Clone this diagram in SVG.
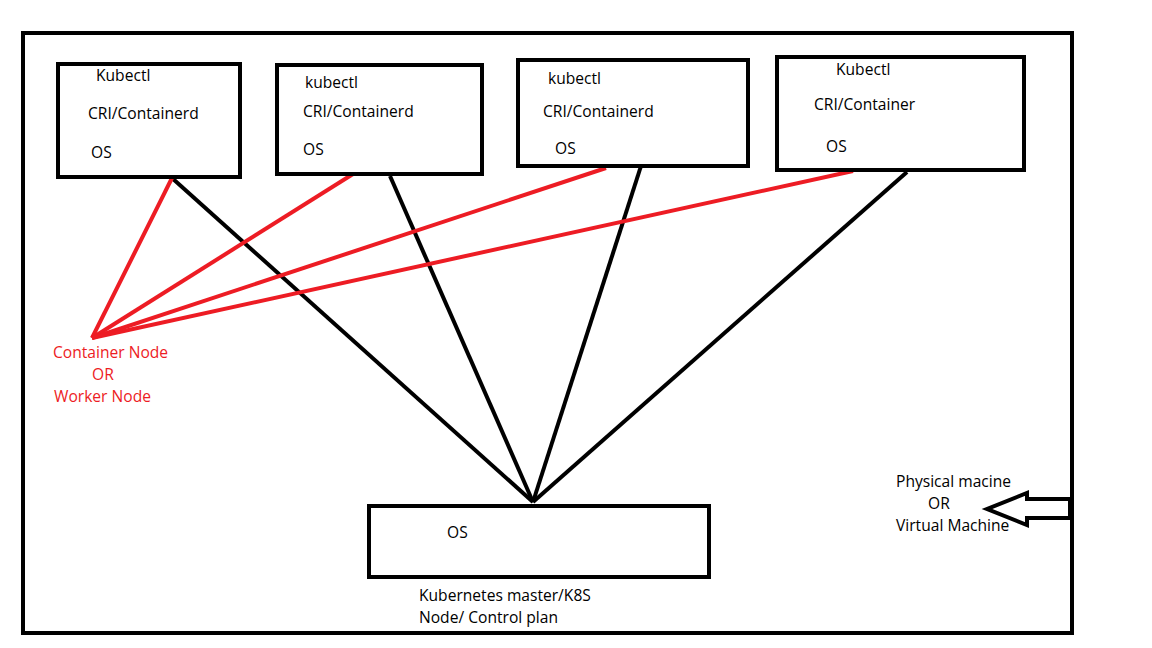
<svg xmlns="http://www.w3.org/2000/svg" width="1152" height="648" viewBox="0 0 1152 648">
<style>
.box{fill:none;stroke:#000;stroke-width:4}
.t{font-family:"Open Sans","Liberation Sans",sans-serif;font-size:15.6px;fill:#000}
.r{fill:#ed1c24}
.bl{stroke:#000;stroke-width:4;fill:none}
.rl{stroke:#ed1c24;stroke-width:4;fill:none}
</style>
<rect width="1152" height="648" fill="#fff"/>
<g id="frame"><rect class="box" x="23" y="33" width="1049" height="600"/></g>
<g id="connectors">
<line class="bl" x1="172" y1="178" x2="533" y2="502"/>
<line class="bl" x1="390" y1="176" x2="533" y2="502"/>
<line class="bl" x1="641" y1="166" x2="533" y2="502"/>
<line class="bl" x1="907" y1="172" x2="533" y2="502"/>
<line class="rl" x1="172" y1="178" x2="92" y2="338"/>
<line class="rl" x1="353" y1="174" x2="92" y2="338"/>
<line class="rl" x1="606" y1="168" x2="92" y2="338"/>
<line class="rl" x1="853" y1="171" x2="92" y2="338"/>
<polygon class="bl" points="1070,499 1027,499 1027,493 987,509 1027,525 1027,518 1070,518"/>
</g>
<g id="node1"><rect class="box" x="58" y="64" width="182" height="113"/>
<text class="t" x="96" y="81">Kubectl</text><text class="t" x="88" y="119">CRI/Containerd</text><text class="t" x="91" y="158">OS</text></g>
<g id="node2"><rect class="box" x="277" y="65" width="205" height="109"/>
<text class="t" x="305" y="88">kubectl</text><text class="t" x="303" y="117">CRI/Containerd</text><text class="t" x="303" y="155">OS</text></g>
<g id="node3"><rect class="box" x="518" y="60" width="230" height="106"/>
<text class="t" x="548" y="84">kubectl</text><text class="t" x="543" y="117">CRI/Containerd</text><text class="t" x="555" y="154">OS</text></g>
<g id="node4"><rect class="box" x="777" y="57" width="247" height="113"/>
<text class="t" x="836" y="75">Kubectl</text><text class="t" x="814" y="110">CRI/Container</text><text class="t" x="826" y="152">OS</text></g>
<g id="master"><rect class="box" x="369" y="506" width="340" height="71"/>
<text class="t" x="447" y="538">OS</text>
<text class="t" x="419" y="601">Kubernetes master/K8S</text><text class="t" x="419" y="623">Node/ Control plan</text></g>
<g id="worker-label"><text class="t r" x="53" y="358">Container Node</text><text class="t r" x="92" y="380">OR</text><text class="t r" x="54" y="402">Worker Node</text></g>
<g id="machine-label"><text class="t" x="896" y="487">Physical macine</text><text class="t" x="928" y="509">OR</text><text class="t" x="896" y="531">Virtual Machine</text></g>
</svg>
